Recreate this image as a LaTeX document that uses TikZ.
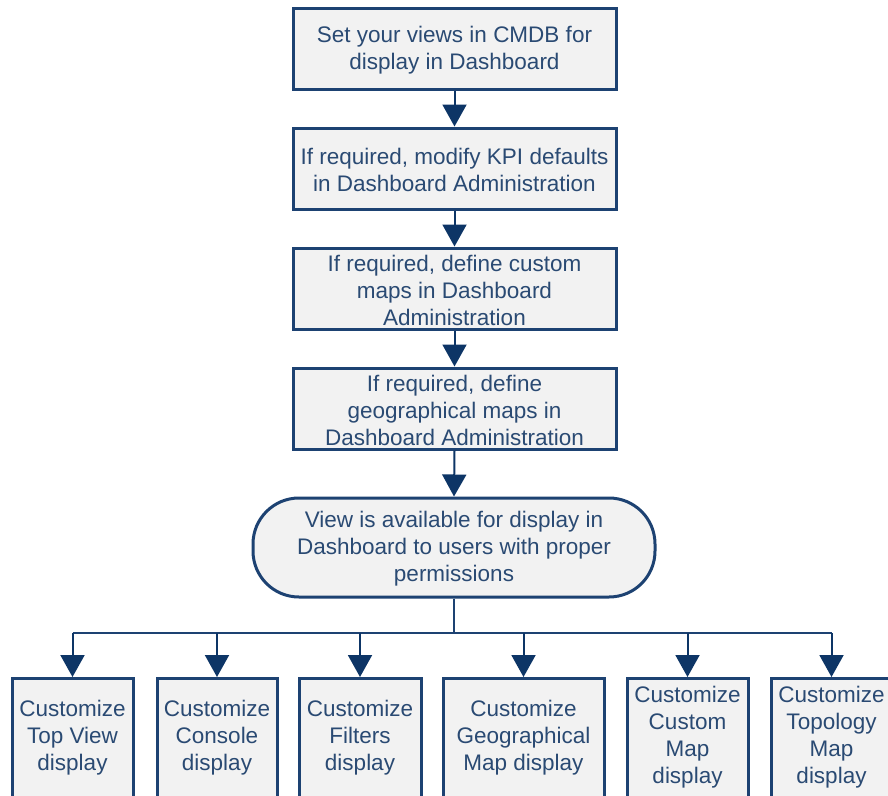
\documentclass[tikz,border=0pt]{standalone}
\usepackage{fontspec}
\setmainfont{Liberation Sans}
\usetikzlibrary{arrows.meta}
\definecolor{bordc}{HTML}{1D4272}
\definecolor{arrc}{HTML}{0D3566}
\definecolor{txtc}{HTML}{2A4A73}
\definecolor{fillc}{HTML}{F2F2F2}
\tikzset{
  stepbox/.style={draw=bordc, line width=3pt, fill=fillc, text=txtc, align=center,
    inner sep=0pt, font=\fontsize{22.5}{27}\selectfont},
  conn/.style={draw=arrc, line width=2pt, -{Triangle[width=24pt,length=22pt]}},
  busline/.style={draw=bordc, line width=1.6pt},
  lbl/.style={text=txtc, align=center, font=\fontsize{22.5}{27}\selectfont},
}
\begin{document}
\begin{tikzpicture}[x=1pt,y=-1pt]
\clip (0,0) rectangle (888,795);
\fill[white] (0,0) rectangle (888,795);
\node[stepbox, minimum width=323pt, minimum height=81pt] (b1) at (454.5,48.5) {};
\node[stepbox, minimum width=323pt, minimum height=81pt] (b2) at (454.5,168.5) {};
\node[stepbox, minimum width=323pt, minimum height=81pt] (b3) at (454.5,288.5) {};
\node[stepbox, minimum width=323pt, minimum height=81pt] (b4) at (454.5,408.5) {};
\node[stepbox, minimum width=402pt, minimum height=99pt, rounded corners=46pt] (r) at (454,547.5) {};
\node[lbl] (l1) at (454.5,50) {Set your views in CMDB for\\display in Dashboard};
\node[lbl] (l2) at (454.5,170) {If required, modify KPI defaults\\in Dashboard Administration};
\node[lbl] (l3) at (454.5,290) {If required, define custom\\maps in Dashboard\\Administration};
\node[lbl] (l4) at (454.5,410) {If required, define\\geographical maps in\\Dashboard Administration};
\node[lbl] (l5) at (454,549) {View is available for display in\\Dashboard to users with proper\\permissions};
\node[stepbox, minimum width=121pt, minimum height=123pt, anchor=north] (c1) at (72.5,677) {};
\node[stepbox, minimum width=120pt, minimum height=123pt, anchor=north] (c2) at (217,677) {};
\node[stepbox, minimum width=122pt, minimum height=123pt, anchor=north] (c3) at (360,677) {};
\node[stepbox, minimum width=161pt, minimum height=123pt, anchor=north] (c4) at (523.5,677) {};
\node[stepbox, minimum width=121pt, minimum height=123pt, anchor=north] (c5) at (687.5,677) {};
\node[stepbox, minimum width=121pt, minimum height=123pt, anchor=north] (c6) at (831.5,677) {};
\node[lbl] (t1) at (72.5,737.5) {Customize\\Top View\\display};
\node[lbl] (t2) at (217,737.5) {Customize\\Console\\display};
\node[lbl] (t3) at (360,737.5) {Customize\\Filters\\display};
\node[lbl] (t4) at (523.5,737.5) {Customize\\Geographical\\Map display};
\node[lbl] (t5) at (687.5,737.5) {Customize\\Custom\\Map\\display};
\node[lbl] (t6) at (831.5,737.5) {Customize\\Topology\\Map\\display};
\draw[conn] (b1.south) -- (b2.north);
\draw[conn] (b2.south) -- (b3.north);
\draw[conn] (b3.south) -- (b4.north);
\draw[conn] (b4.south) -- (r.north);
\coordinate (bus) at (454,633);
\coordinate (busL) at (72.5,633);
\coordinate (busR) at (831.5,633);
\draw[draw=bordc, line width=2.5pt] (r.south) -- (bus);
\draw[busline] (busL) -- (busR);
\draw[conn] (busL) -- (c1.north);
\draw[conn] (bus -| c2.north) -- (c2.north);
\draw[conn] (bus -| c3.north) -- (c3.north);
\draw[conn] (bus -| c4.north) -- (c4.north);
\draw[conn] (bus -| c5.north) -- (c5.north);
\draw[conn] (busR) -- (c6.north);
\end{tikzpicture}
\end{document}
